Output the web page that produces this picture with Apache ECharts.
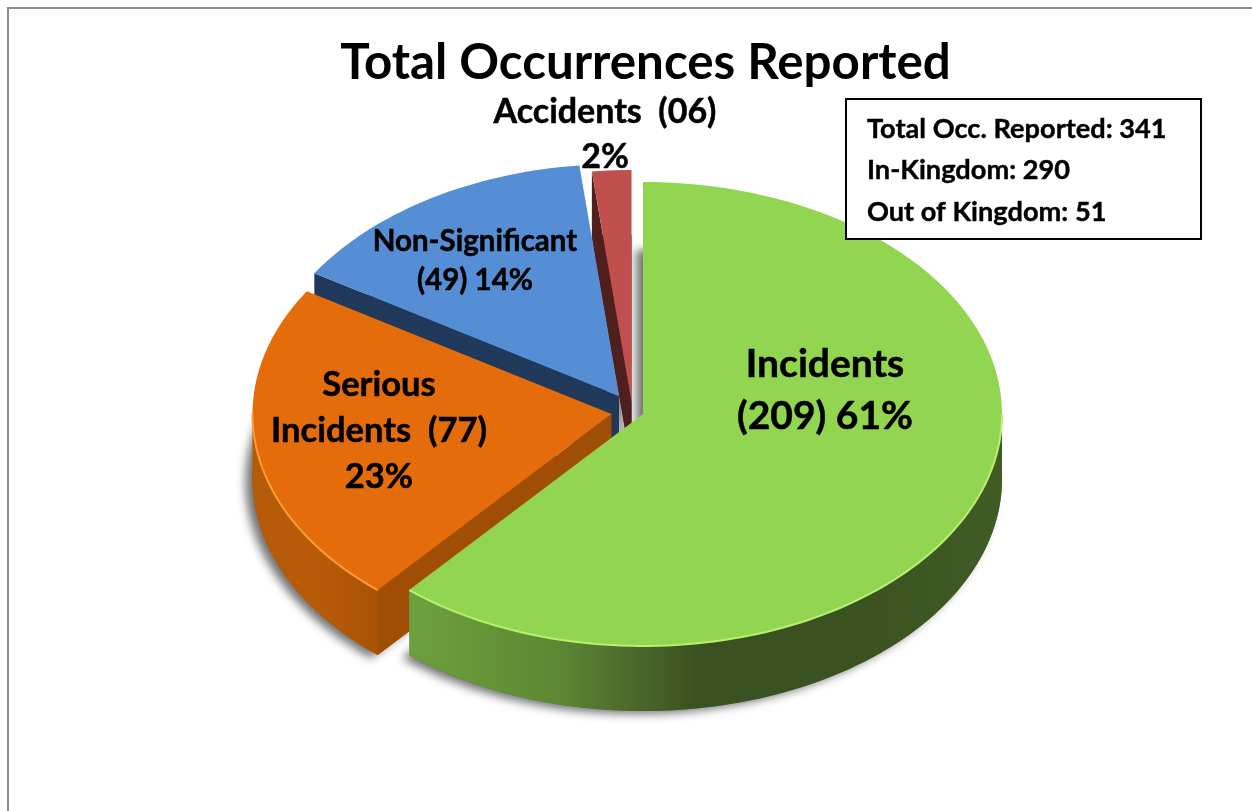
<!DOCTYPE html>
<html>
<head>
<meta charset="utf-8">
<style>html,body{margin:0;padding:0;background:#fff}#chart{width:1252px;height:811px}</style>
<script src="https://cdn.jsdelivr.net/npm/echarts@6/dist/echarts.min.js"></script>
</head>
<body>
<div id="chart"></div>
<script>
// Occurrence counts, clockwise from twelve o'clock
var categories = ['Incidents', 'Serious\nIncidents', 'Non-Significant', 'Accidents'];
var occurrences = [209, 77, 49, 6];
var nameValueBreaks = ['\n', '  ', '\n', '  '];
var valuePercentBreaks = [' ', '\n', ' ', '\n'];
var infoLines = ['Total Occ. Reported: 341', 'In-Kingdom: 290', 'Out of Kingdom: 51'];
var chartTitle = 'Total Occurrences Reported';

// Pie geometry
var RX = 359, RY = 232, DEPTH = 65;
var FONT = 'Lato, "Open Sans", sans-serif';

// Per-slice drawing style: centre after explosion, faces, label placement
var sliceStyle = [
  { cx: 643, cy: 414, layer: 30, top: '#92D550', cut: '#4F7A2A', rim: '#B8F070',
    wall: [[0, '#6E9F3E'], [.12, '#669538'], [.25, '#5D8734'], [.38, '#4A682B'], [.48, '#3A5221'], [.75, '#3A5220'], [1, '#405C25']],
    label: [825, 390], fontSize: 39, lineHeight: 52 },
  { cx: 611.5, cy: 414, layer: 20, top: '#E46C0A', cut: '#A04E06', rim: '#FF9D35',
    wall: [[0, '#B45A08'], [.5, '#B85B08'], [1, '#A95306']],
    label: [379, 431], fontSize: 34.5, lineHeight: 46 },
  { cx: 619, cy: 396, layer: 10, top: '#558ED5', cut: '#203859', rim: '#558ED5',
    wall: [[0, '#203859'], [1, '#203859']],
    label: [475, 261], fontSize: 29.5, lineHeight: 39 },
  { cx: 631.5, cy: 402, layer: 5, top: '#C0504D', cut: '#4F1F1E', rim: '#C0504D',
    wall: [[0, '#4F1F1E'], [1, '#4F1F1E']],
    label: [605, 135], fontSize: 34, lineHeight: 45 }
];

var total = occurrences.reduce(function (a, b) { return a + b; }, 0);

function rad(deg) { return deg * Math.PI / 180; }
function rimPoint(s, deg, drop) {
  return [s.cx + RX * Math.sin(rad(deg)), s.cy - RY * Math.cos(rad(deg)) + (drop || 0)];
}
function arc(s, from, to, drop) {
  var pts = [], n = Math.max(2, Math.ceil(Math.abs(to - from) / 1.5));
  for (var i = 0; i <= n; i++) pts.push(rimPoint(s, from + (to - from) * i / n, drop));
  return pts;
}
function labelText(i) {
  var pct = Math.round(occurrences[i] / total * 100);
  var v = String(occurrences[i]);
  if (v.length < 2) v = '0' + v;
  return categories[i] + nameValueBreaks[i] + '(' + v + ')' + valuePercentBreaks[i] + pct + '%';
}

function renderSlice(params, api) {
  var i = params.dataIndex;
  var s = sliceStyle[i];
  var before = 0;
  for (var k = 0; k < i; k++) before += occurrences[k];
  var a0 = before / total * 360;
  var a1 = a0 + api.value(0) / total * 360;
  var apex = [s.cx, s.cy];
  var kids = [];

  // Soft drop shadow cast by the underside, painted beneath every slice
  kids.push({
    type: 'polygon', z2: 1,
    shape: { points: [[s.cx, s.cy + DEPTH]].concat(arc(s, a0, a1, DEPTH)) },
    style: { fill: s.cut, shadowBlur: 10, shadowColor: 'rgba(0,0,0,0.55)', shadowOffsetX: -7, shadowOffsetY: 3 }
  });

  // Cut faces that turn toward the viewer
  function face(deg) {
    var p = rimPoint(s, deg);
    kids.push({
      type: 'polygon', z2: s.layer,
      shape: { points: [apex, p, [p[0], p[1] + DEPTH], [s.cx, s.cy + DEPTH]] },
      style: { fill: s.cut }
    });
  }
  if (Math.sin(rad(a0)) < -1e-6) face(a0);
  if (Math.sin(rad(a1)) > 1e-6) face(a1);

  // Outer wall on the near half of the ellipse
  var w0 = Math.max(a0, 90), w1 = Math.min(a1, 270);
  if (w1 > w0) {
    kids.push({
      type: 'polygon', z2: s.layer + 1,
      shape: { points: arc(s, w0, w1, 0).concat(arc(s, w1, w0, DEPTH)) },
      style: { fill: { type: 'linear', x: 0, y: 0, x2: 1, y2: 0, colorStops: s.wall.map(function (c) { return { offset: c[0], color: c[1] }; }) } }
    });
  }

  // Top face
  kids.push({
    type: 'polygon', z2: s.layer + 2,
    shape: { points: [apex].concat(arc(s, a0, a1, 0)) },
    style: { fill: s.top }
  });

  // Bright bevel along the near rim
  if (w1 > w0) {
    kids.push({
      type: 'polyline', z2: s.layer + 3,
      shape: { points: arc(s, w0, w1, 0) },
      style: { fill: 'none', stroke: s.rim, lineWidth: 2 }
    });
  }

  kids.push({
    type: 'text', z2: 100,
    style: {
      x: s.label[0], y: s.label[1], text: labelText(i),
      fill: '#000', stroke: '#000', lineWidth: 0.5, align: 'center', verticalAlign: 'middle',
      font: 'bold ' + s.fontSize + 'px ' + FONT, lineHeight: s.lineHeight
    }
  });
  return { type: 'group', children: kids };
}

var chart = echarts.init(document.getElementById('chart'), null, { renderer: 'canvas' });
chart.setOption({
  animation: false,
  backgroundColor: '#ffffff',
  title: {
    text: chartTitle, left: 640.5, top: 34, textAlign: 'center',
    textStyle: { fontFamily: FONT, fontWeight: 'bold', fontSize: 49.3, color: '#000' }
  },
  series: [{
    type: 'custom',
    coordinateSystem: 'none',
    renderItem: renderSlice,
    data: occurrences.map(function (v) { return [v]; }),
    silent: true
  }],
  graphic: [
    { type: 'polyline', z: 1, shape: { points: [[8, 811], [8, 8], [1252, 8]] }, style: { fill: 'none', stroke: '#8C8C8C', lineWidth: 2 } },
    { type: 'rect', z: 10, shape: { x: 846, y: 99, width: 355, height: 140 }, style: { fill: '#fff', stroke: '#000', lineWidth: 2 } }
  ].concat(infoLines.map(function (line, i) {
    return { type: 'text', z: 11, x: 867, y: 129 + i * 41.5,
      style: { text: line, fill: '#000', font: 'bold 27.2px ' + FONT, stroke: '#000', lineWidth: 0.4, verticalAlign: 'middle' } };
  }))
});
</script>
</body>
</html>
